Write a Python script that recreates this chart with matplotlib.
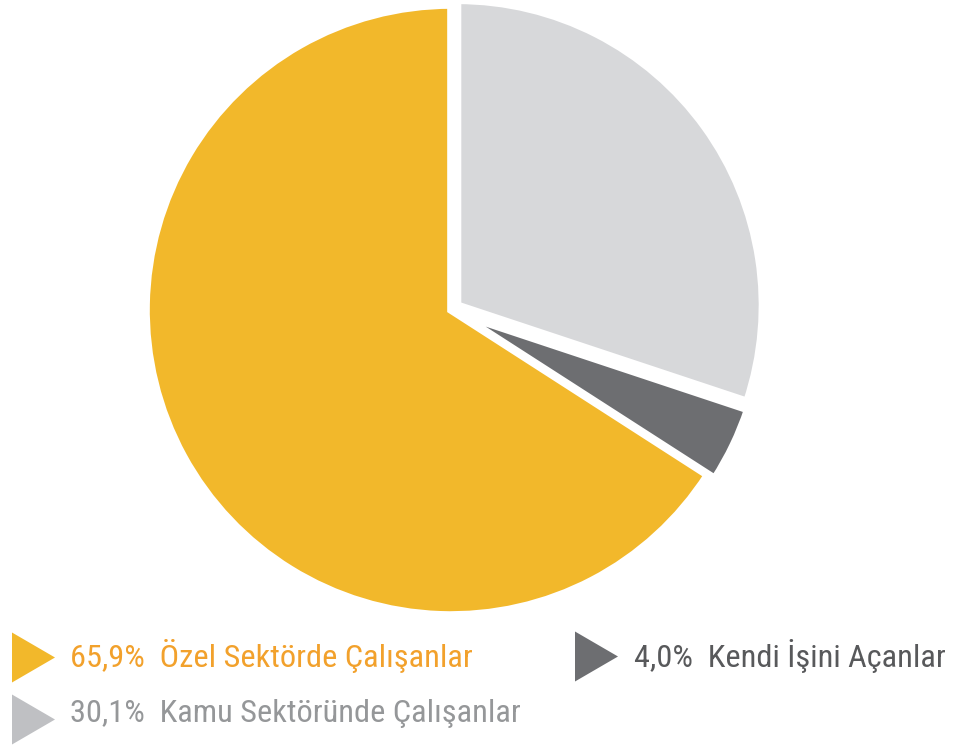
import matplotlib
matplotlib.use("Agg")
import matplotlib.pyplot as plt
from matplotlib import font_manager

labels = ["Kamu Sektöründe Çalışanlar", "Kendi İşini Açanlar", "Özel Sektörde Çalışanlar"]
values = [30.1, 4.0, 65.9]
value_texts = ["30,1%", "4,0%", "65,9%"]
colors = ["#d7d8da", "#6d6e71", "#f2b82b"]
tri_colors = ["#bfc0c3", "#6d6e71", "#f2b82b"]
text_colors = ["#959799", "#58595b", "#f2a12c"]

names = {f.name for f in font_manager.fontManager.ttflist}
pref = [n for n in ["Roboto Condensed", "Liberation Sans Narrow"] if n in names]
if not pref:
    pref = sorted(n for n in names if "Narrow" in n or "Condensed" in n)[:1]
fam = pref + ["Roboto", "DejaVu Sans"]

W, H = 957, 749
fig = plt.figure(figsize=(W / 100, H / 100), dpi=100)
ax = fig.add_axes([0, 0, 1, 1])

# explode offsets in pixel units (data units == pixels here)
explode_px = [8, 8, 0]
ax.pie(values, colors=colors, startangle=90, counterclock=False, explode=explode_px,
       center=(451, H - 310), radius=305,
       wedgeprops=dict(edgecolor="white", linewidth=5.5), frame=True)
ax.set_xlim(0, W)
ax.set_ylim(0, H)
ax.set_aspect("equal")
ax.axis("off")

tri = [(-0.86, 1.0), (-0.86, -1.0), (0.86, 0.0)]
# (index, triangle centre x, triangle centre y, text x, text centre y)
entries = [(2, 33, 657, 70, 656), (0, 33, 719, 70, 713), (1, 596, 656, 634, 656)]
for idx, tx, ty, lx, ly in entries:
    ax.plot([tx], [H - ty], marker=tri, markersize=36, color=tri_colors[idx],
            markeredgewidth=0, linestyle="none")
    ax.text(lx, H - ly, f"{value_texts[idx]}  {labels[idx]}", color=text_colors[idx],
            fontsize=23.3, family=fam, fontweight="normal", va="center", ha="left")

fig.savefig("out.png", dpi=100)
